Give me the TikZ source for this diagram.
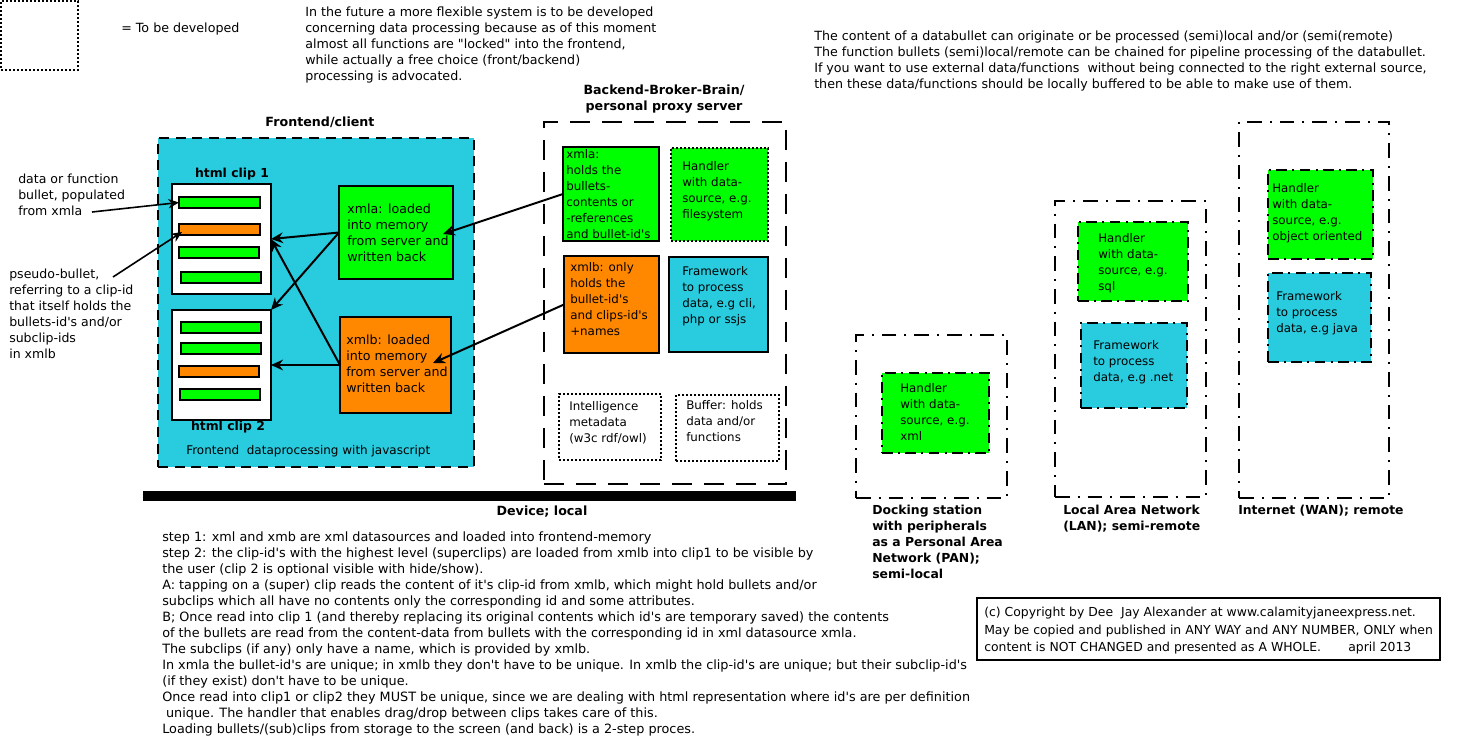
\documentclass[tikz,border=0pt]{standalone}
\usepackage{fontspec}
\setmainfont{DejaVu Sans}[Ligatures=TeXOff]
\usetikzlibrary{fit,arrows.meta}
\definecolor{cgreen}{RGB}{0,255,0}
\definecolor{corange}{RGB}{255,136,0}
\definecolor{ccyan}{RGB}{41,204,223}
\newcommand\fsz[2]{\fontsize{#1}{#2}\selectfont}
\tikzset{
  area/.style={inner sep=0pt, outer sep=0pt},
  solidbox/.style={area, draw=black, line width=1.5pt},
  dotbox/.style={area, draw=black, line width=1.5pt, dash pattern=on 1.5pt off 1.5pt},
  frontbox/.style={area, fill=ccyan, draw=black, line width=1.5pt, dash pattern=on 7.5pt off 5pt},
  backbox/.style={area, draw=black, line width=1.5pt, dash pattern=on 15pt off 9pt},
  zonebox/.style={area, draw=black, line width=1.5pt, dash pattern=on 11pt off 6pt on 1.5pt off 6pt},
  zoneinner/.style={area, draw=black, line width=1.5pt, dash pattern=on 8pt off 4pt on 1.5pt off 4pt},
  bar/.style={area, draw=black, line width=1.5pt},
  txt/.style={anchor=north west, inner sep=0pt, align=left, font=\fsz{9.5}{12}},
  stxt/.style={anchor=north west, inner sep=0pt, align=left, font=\fsz{8.9}{12}},
  lbl/.style={inner sep=0pt, align=center, font=\bfseries\fsz{9.5}{12}},
  lbll/.style={anchor=north west, inner sep=0pt, align=left, font=\bfseries\fsz{9.3}{12}},
  arr/.style={-{Stealth[length=9pt,width=8pt]}, line width=1.5pt},
  thinarr/.style={-{Stealth[length=8pt,width=7pt]}, line width=1.2pt},
}
\begin{document}
\begin{tikzpicture}[x=0.75pt,y=-0.75pt]
\useasboundingbox (0,0) rectangle (1458,739);

% legend
\node[fit={(1,1)(78,70)}, dotbox] (legend) {};
\node[txt, anchor=west] (legendtxt) at (121,29) {= To be developed};

% top texts
\node[txt] (future) at (305,7) {In the future a more flexible system is to be developed\\
concerning data processing because as of this moment\\
almost all functions are "locked" into the frontend,\\
while actually a free choice (front/backend)\\
processing is advocated.};
\node[txt, font=\fsz{9.5}{12}] (content) at (814,31) {The content of a databullet can originate or be processed (semi)local and/or (semi(remote)\\
The function bullets (semi)local/remote can be chained for pipeline processing of the databullet.\\
If you want to use external data/functions\ \ without being connected to the right external source,\\
then these data/functions should be locally buffered to be able to make use of them.};

% frontend
\node[lbl] (frontlbl) at (320,122) {Frontend/client};
\node[fit={(158,138)(474,467)}, frontbox] (front) {};
\node[lbl, font=\bfseries\fsz{9.3}{12}] (clip1lbl) at (232,174) {html clip 1};
\node[fit={(172,184)(271,294)}, solidbox, fill=white] (clip1) {};
\node[fit={(179,197)(260,208)}, bar, fill=cgreen] (b11) {};
\node[fit={(179,224)(260,235)}, bar, fill=corange] (b12) {};
\node[fit={(179,247)(259,258)}, bar, fill=cgreen] (b13) {};
\node[fit={(181,272)(261,283)}, bar, fill=cgreen] (b14) {};
\node[fit={(172,310)(271,420)}, solidbox, fill=white] (clip2) {};
\node[fit={(181,322)(261,333)}, bar, fill=cgreen] (b21) {};
\node[fit={(181,343)(261,354)}, bar, fill=cgreen] (b22) {};
\node[fit={(179,366)(259,377)}, bar, fill=corange] (b23) {};
\node[fit={(180,389)(260,400)}, bar, fill=cgreen] (b24) {};
\node[lbl, font=\bfseries\fsz{9.3}{12}] (clip2lbl) at (228,427) {html clip 2};
\node[txt, anchor=west, font=\fsz{9}{12}] (fproc) at (186,451) {Frontend\ \ dataprocessing with javascript};

\node[fit={(339,186)(453,279)}, solidbox, fill=cgreen] (xmlaF) {};
\node[txt] (xmlaFt) at (347,204) {xmla: loaded\\into memory\\from server and\\written back};
\node[fit={(340,317)(451,413)}, solidbox, fill=corange] (xmlbF) {};
\node[txt] (xmlbFt) at (346,335) {xmlb: loaded\\into memory\\from server and\\written back};

% left annotations
\node[txt, font=\fsz{9.4}{12}] (ann1) at (18,174) {data or function\\bullet, populated\\from xmla};
\node[txt, font=\fsz{9.4}{12}] (ann2) at (9,269) {pseudo-bullet,\\referring to a clip-id\\that itself holds the\\bullets-id's and/or\\subclip-ids\\in xmlb};
\coordinate (a1s) at (92,212);
\coordinate (a2s) at (113,277);
\coordinate (a2e) at (182,232);
\draw[thinarr] (a1s) -- (b11.west);
\draw[thinarr] (a2s) -- (a2e);

% frontend arrows
\draw[arr] (xmlaF.west) -- (clip1.east);
\draw[arr] (xmlaF.west) -- (clip2.north east);
\draw[arr] (xmlbF.west) -- (clip1.east);
\draw[arr] (xmlbF.west) -- (clip2.east);

% backend
\node[lbl] (backlbl) at (664,99) {Backend-Broker-Brain/\\personal proxy server};
\node[fit={(544,122)(786,484)}, backbox] (back) {};
\node[fit={(563,147)(659,241)}, solidbox, fill=cgreen] (xmlaB) {};
\node[stxt] (xmlaBt) at (566,149) {xmla:\\holds the\\bullets-\\contents or\\-references\\and bullet-id's};
\node[fit={(671,148)(768,241)}, dotbox, fill=cgreen] (handfs) {};
\node[stxt] (handfst) at (682,161) {Handler\\with data-\\source, e.g.\\filesystem};
\node[fit={(564,256)(659,353)}, solidbox, fill=corange] (xmlbB) {};
\node[stxt] (xmlbBt) at (570,262) {xmlb: only\\holds the\\bullet-id's\\and clips-id's\\+names};
\node[fit={(669,257)(768,352)}, solidbox, fill=ccyan] (fwB) {};
\node[stxt] (fwBt) at (682,266) {Framework\\to process\\data, e.g cli,\\php or ssjs};
\node[fit={(559,394)(661,460)}, dotbox] (intel) {};
\node[stxt] (intelt) at (569,401) {Intelligence\\metadata\\(w3c rdf/owl)};
\node[fit={(676,395)(779,461)}, dotbox] (buffer) {};
\node[stxt] (buffert) at (686,400) {Buffer: holds\\data and/or\\functions};

\coordinate (pa) at (443,234);
\coordinate (pb) at (433,363);
\draw[arr] (xmlaB.west) -- (pa);
\draw[arr] (xmlbB.west) -- (pb);

% device bar
\node[fit={(143,491)(796,501)}, area, fill=black] (devbar) {};
\node[lbl] (devlbl) at (542,512) {Device; local};

% bottom text
\node[txt, font=\fsz{9.6}{12}] (steps) at (162,531) {step 1: xml and xmb are xml datasources and loaded into frontend-memory\\
step 2: the clip-id's with the highest level (superclips) are loaded from xmlb into clip1 to be visible by\\
the user (clip 2 is optional visible with hide/show).\\
A: tapping on a (super) clip reads the content of it's clip-id from xmlb, which might hold bullets and/or\\
subclips which all have no contents only the corresponding id and some attributes.\\
B; Once read into clip 1 (and thereby replacing its original contents which id's are temporary saved) the contents\\
of the bullets are read from the content-data from bullets with the corresponding id in xml datasource xmla.\\
The subclips (if any) only have a name, which is provided by xmlb.\\
In xmla the bullet-id's are unique; in xmlb they don't have to be unique. In xmlb the clip-id's are unique; but their subclip-id's\\
(if they exist) don't have to be unique.\\
Once read into clip1 or clip2 they MUST be unique, since we are dealing with html representation where id's are per definition\\
\hspace*{0.3em}unique. The handler that enables drag/drop between clips takes care of this.\\
Loading bullets/(sub)clips from storage to the screen (and back) is a 2-step proces.};

% PAN
\node[fit={(856,335)(1007,498)}, zonebox] (pan) {};
\node[fit={(882,373)(989,453)}, zoneinner, fill=cgreen] (panh) {};
\node[stxt] (panht) at (900,383) {Handler\\with data-\\source, e.g.\\xml};
\node[lbll] (panlbl) at (872,505) {Docking station\\with peripherals\\as a Personal Area\\Network (PAN);\\semi-local};

% LAN
\node[fit={(1055,201)(1206,497)}, zonebox] (lan) {};
\node[fit={(1078,222)(1188,301)}, zoneinner, fill=cgreen] (lanh) {};
\node[stxt] (lanht) at (1098,233) {Handler\\with data-\\source, e.g.\\sql};
\node[fit={(1081,323)(1187,408)}, zoneinner, fill=ccyan] (lanf) {};
\node[stxt] (lanft) at (1093,340) {Framework\\to process\\data, e.g .net};
\node[lbll] (lanlbl) at (1063,505) {Local Area Network\\(LAN); semi-remote};

% WAN
\node[fit={(1239,122)(1389,498)}, zonebox] (wan) {};
\node[fit={(1268,170)(1373,259)}, zoneinner, fill=cgreen] (wanh) {};
\node[stxt] (wanht) at (1272,183) {Handler\\with data-\\source, e.g.\\object oriented};
\node[fit={(1268,273)(1371,362)}, zoneinner, fill=ccyan] (wanf) {};
\node[stxt] (wanft) at (1276,291) {Framework\\to process\\data, e.g java};
\node[lbll] (wanlbl) at (1238,505) {Internet (WAN); remote};

% copyright
\node[fit={(977,598)(1440,660)}, solidbox] (copy) {};
\node[txt, font=\fsz{9.3}{13}] (copyt) at (984,607) {(c) Copyright by Dee\ \ Jay Alexander at www.calamityjaneexpress.net.\\
May be copied and published in ANY WAY and ANY NUMBER, ONLY when\\
content is NOT CHANGED and presented as A WHOLE.\hspace{2.2em}april 2013};
\end{tikzpicture}
\end{document}
